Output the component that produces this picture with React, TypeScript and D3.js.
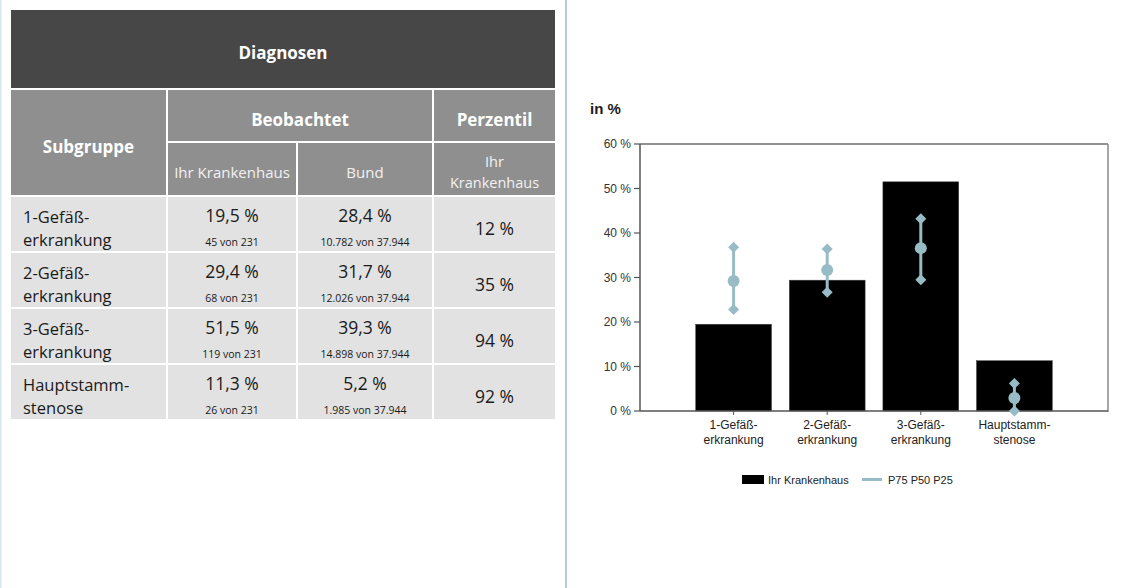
import React from "react";
import * as d3 from "d3";

// ---------- data ----------
const categoryKeys = ["g1", "g2", "g3", "hs"];
const categoryLines: string[][] = [
  ["1-Gefäß-", "erkrankung"],
  ["2-Gefäß-", "erkrankung"],
  ["3-Gefäß-", "erkrankung"],
  ["Hauptstamm-", "stenose"],
];
const hospitalValues = [19.5, 29.4, 51.5, 11.3];
const p75Values = [36.8, 36.4, 43.2, 6.2];
const p50Values = [29.2, 31.7, 36.6, 2.9];
const p25Values = [22.8, 26.7, 29.5, 0];
const yTicks = [0, 10, 20, 30, 40, 50, 60];

const tableHospital = ["19,5 %", "29,4 %", "51,5 %", "11,3 %"];
const tableHospitalCounts = ["45 von 231", "68 von 231", "119 von 231", "26 von 231"];
const tableBund = ["28,4 %", "31,7 %", "39,3 %", "5,2 %"];
const tableBundCounts = ["10.782 von 37.944", "12.026 von 37.944", "14.898 von 37.944", "1.985 von 37.944"];
const tablePercentile = ["12 %", "35 %", "94 %", "92 %"];

// ---------- styles ----------
const TF = "'Open Sans', 'Noto Sans', sans-serif";
const CF = "'Liberation Sans', Arial, sans-serif";
const DARK = "#474747";
const HEAD = "#8f8f8f";
const ROW = "#e2e2e2";
const PCOL = "#97bcc6";

export default function App() {
  // chart geometry
  const left = 640, right = 1108, top = 144, bottom = 411;
  const x = d3.scalePoint<string>().domain(categoryKeys).range([left, right]).padding(1);
  const y = d3.scaleLinear().domain([0, 60]).range([bottom, top]);
  const barW = x.step() * 0.81;

  // table geometry
  const tx0 = 11, tx1 = 555;
  const cols = [11, 168, 298, 434, 555];
  const rowTops = [197, 253, 309, 365];
  const rowH = 54;

  const diamond = (cx: number, cy: number, s: number) =>
    `M${cx},${cy - s} L${cx + s},${cy} L${cx},${cy + s} L${cx - s},${cy} Z`;

  return (
    <div style={{ position: "absolute", left: 0, top: 0 }}>
      <svg width={1127} height={588} style={{ display: "block" }}>
        <rect x={0} y={0} width={1127} height={588} fill="#fff" />
        <line x1={0.75} x2={0.75} y1={0} y2={588} stroke="#d6e7ec" strokeWidth={1.5} />
        <line x1={566} x2={566} y1={0} y2={588} stroke="#9fc4cc" strokeWidth={1.6} />

        {/* ----- table ----- */}
        <rect x={tx0} y={10} width={tx1 - tx0} height={78} fill={DARK} />
        <text x={(tx0 + tx1) / 2} y={59} textAnchor="middle" fill="#fff" fontFamily={TF} fontWeight={700} fontSize={17}>
          Diagnosen
        </text>

        <rect x={cols[0]} y={90} width={cols[1] - 2 - cols[0]} height={105} fill={HEAD} />
        <rect x={cols[1]} y={90} width={cols[3] - 2 - cols[1]} height={51} fill={HEAD} />
        <rect x={cols[3]} y={90} width={cols[4] - cols[3]} height={51} fill={HEAD} />
        <rect x={cols[1]} y={143} width={cols[2] - 2 - cols[1]} height={52} fill={HEAD} />
        <rect x={cols[2]} y={143} width={cols[3] - 2 - cols[2]} height={52} fill={HEAD} />
        <rect x={cols[3]} y={143} width={cols[4] - cols[3]} height={52} fill={HEAD} />

        <text x={(cols[0] + cols[1] - 2) / 2} y={153} textAnchor="middle" fill="#fff" fontFamily={TF} fontWeight={700} fontSize={17}>
          Subgruppe
        </text>
        <text x={(cols[1] + cols[3] - 2) / 2} y={126} textAnchor="middle" fill="#fff" fontFamily={TF} fontWeight={700} fontSize={17}>
          Beobachtet
        </text>
        <text x={(cols[3] + cols[4]) / 2} y={126} textAnchor="middle" fill="#fff" fontFamily={TF} fontWeight={700} fontSize={17}>
          Perzentil
        </text>
        <text x={(cols[1] + cols[2] - 2) / 2} y={178} textAnchor="middle" fill="#f2f2f2" fontFamily={TF} fontSize={15}>
          Ihr Krankenhaus
        </text>
        <text x={(cols[2] + cols[3] - 2) / 2} y={178} textAnchor="middle" fill="#f2f2f2" fontFamily={TF} fontSize={15}>
          Bund
        </text>
        <text x={(cols[3] + cols[4]) / 2} y={167} textAnchor="middle" fill="#f2f2f2" fontFamily={TF} fontSize={14.5}>
          Ihr
        </text>
        <text x={(cols[3] + cols[4]) / 2} y={188} textAnchor="middle" fill="#f2f2f2" fontFamily={TF} fontSize={14.5}>
          Krankenhaus
        </text>

        {rowTops.map((ry, i) => (
          <g key={"row" + i}>
            <rect x={cols[0]} y={ry} width={cols[1] - 2 - cols[0]} height={rowH} fill={ROW} />
            <rect x={cols[1]} y={ry} width={cols[2] - 2 - cols[1]} height={rowH} fill={ROW} />
            <rect x={cols[2]} y={ry} width={cols[3] - 2 - cols[2]} height={rowH} fill={ROW} />
            <rect x={cols[3]} y={ry} width={cols[4] - cols[3]} height={rowH} fill={ROW} />
            <text x={23} y={ry + 26} fill="#1a1a1a" fontFamily={TF} fontSize={16.5}>
              {categoryLines[i][0]}
            </text>
            <text x={23} y={ry + 49} fill="#1a1a1a" fontFamily={TF} fontSize={16.5}>
              {categoryLines[i][1]}
            </text>
            <text x={(cols[1] + cols[2] - 2) / 2} y={ry + 25} textAnchor="middle" fill="#1a1a1a" fontFamily={TF} fontSize={17.5}>
              {tableHospital[i]}
            </text>
            <text x={(cols[1] + cols[2] - 2) / 2} y={ry + 49} textAnchor="middle" fill="#1a1a1a" fontFamily={TF} fontSize={10.5}>
              {tableHospitalCounts[i]}
            </text>
            <text x={(cols[2] + cols[3] - 2) / 2} y={ry + 25} textAnchor="middle" fill="#1a1a1a" fontFamily={TF} fontSize={17.5}>
              {tableBund[i]}
            </text>
            <text x={(cols[2] + cols[3] - 2) / 2} y={ry + 49} textAnchor="middle" fill="#1a1a1a" fontFamily={TF} fontSize={10.5}>
              {tableBundCounts[i]}
            </text>
            <text x={(cols[3] + cols[4]) / 2} y={ry + 38} textAnchor="middle" fill="#1a1a1a" fontFamily={TF} fontSize={17.5}>
              {tablePercentile[i]}
            </text>
          </g>
        ))}

        {/* ----- chart ----- */}
        <text x={590} y={114} fill="#1a1a1a" fontFamily={CF} fontWeight={700} fontSize={15}>
          in %
        </text>

        {hospitalValues.map((v, i) => (
          <rect
            key={"bar" + i}
            x={(x(categoryKeys[i]) as number) - barW / 2}
            y={y(v)}
            width={barW}
            height={y(0) - y(v)}
            fill="#000"
            stroke="#444"
            strokeWidth={0.5}
          />
        ))}

        {/* frame */}
        <line x1={left} x2={right} y1={top} y2={top} stroke="#6e6e6e" strokeWidth={1.5} />
        <line x1={right} x2={right} y1={top} y2={bottom + 1} stroke="#888" strokeWidth={1.5} />
        <line x1={left} x2={left} y1={top} y2={bottom} stroke="#555" strokeWidth={1.5} />
        <line x1={left} x2={right} y1={bottom} y2={bottom} stroke="#555" strokeWidth={1.5} />

        {yTicks.map((t) => (
          <g key={"yt" + t}>
            <line x1={left - 6} x2={left} y1={y(t)} y2={y(t)} stroke="#555" strokeWidth={1.2} />
            <text x={left - 9} y={y(t) + 4} textAnchor="end" fill="#333" fontFamily={CF} fontSize={12}>
              {t} %
            </text>
          </g>
        ))}

        {categoryKeys.map((k, i) => (
          <g key={"xt" + k}>
            <line x1={x(k)} x2={x(k)} y1={bottom} y2={bottom + 4} stroke="#555" strokeWidth={1} />
            <text x={x(k)} y={bottom + 18} textAnchor="middle" fill="#222" fontFamily={CF} fontSize={12}>
              {categoryLines[i][0]}
            </text>
            <text x={x(k)} y={bottom + 33} textAnchor="middle" fill="#222" fontFamily={CF} fontSize={12}>
              {categoryLines[i][1]}
            </text>
          </g>
        ))}

        {categoryKeys.map((k, i) => {
          const cx = x(k) as number;
          return (
            <g key={"pc" + k}>
              <line x1={cx} x2={cx} y1={y(p75Values[i])} y2={y(p25Values[i])} stroke={PCOL} strokeWidth={3} />
              <path d={diamond(cx, y(p75Values[i]), 5.5)} fill={PCOL} />
              <path d={diamond(cx, y(p25Values[i]), 5.5)} fill={PCOL} />
              <circle cx={cx} cy={y(p50Values[i])} r={6} fill={PCOL} />
            </g>
          );
        })}

        {/* legend */}
        <rect x={742} y={475} width={22} height={9} fill="#000" />
        <text x={768} y={484} fill="#222" fontFamily={CF} fontSize={11}>
          Ihr Krankenhaus
        </text>
        <line x1={862} x2={882} y1={479.5} y2={479.5} stroke={PCOL} strokeWidth={3} />
        <text x={888} y={484} fill="#222" fontFamily={CF} fontSize={11}>
          P75 P50 P25
        </text>
      </svg>
    </div>
  );
}
